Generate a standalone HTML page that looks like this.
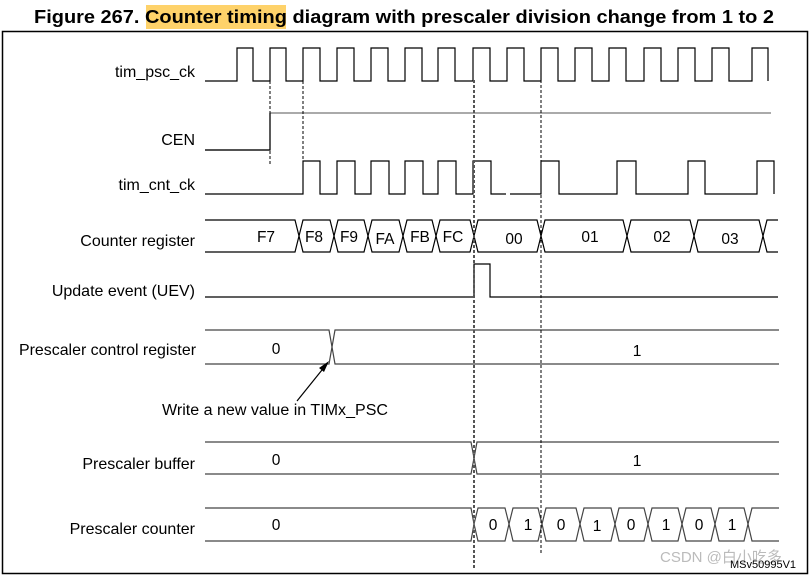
<!DOCTYPE html>
<html><head><meta charset="utf-8"><style>
html,body{margin:0;padding:0;background:#fff;}
svg{display:block;font-family:"Liberation Sans",Arial,sans-serif;}
</style></head><body>
<svg width="811" height="576" viewBox="0 0 811 576" xmlns="http://www.w3.org/2000/svg">
<rect x="146" y="5" width="140" height="24" fill="#fed26a"/>
<text x="34" y="23" font-size="18" font-weight="bold" textLength="740" lengthAdjust="spacingAndGlyphs">Figure 267. Counter timing diagram with prescaler division change from 1 to 2</text>
<rect x="2.5" y="31.5" width="805" height="542" fill="none" stroke="#000" stroke-width="1.5"/>
<g font-size="16" text-anchor="end" fill="#000">
<text x="195" y="77">tim_psc_ck</text>
<text x="195" y="145">CEN</text>
<text x="195" y="190">tim_cnt_ck</text>
<text x="195" y="246">Counter register</text>
<text x="195" y="296">Update event (UEV)</text>
<text x="196" y="355" textLength="177" lengthAdjust="spacingAndGlyphs">Prescaler control register</text>
<text x="195" y="469">Prescaler buffer</text>
<text x="195" y="534">Prescaler counter</text>
</g>
<g fill="none" stroke="#000" stroke-width="1.2">
<path d="M205 81 H237 V48 H253 V81 H270 V48 H286 V81 H303 V48 H320 V81 H337 V48 H354 V81 H371 V48 H388 V81 H405 V48 H422 V81 H438 V48 H455 V81 H473 V48 H490 V81 H507 V48 H524 V81 H541 V48 H558 V81 H575 V48 H592 V81 H609 V48 H626 V81 H644 V48 H661 V81 H678 V48 H695 V81 H712 V48 H729 V81 H752 V48 H768 V81"/>
<path d="M205 150 H270 V113 H771" stroke="#777"/>
<path d="M205 150 H270 V113"/>
<path d="M205 194 H303 V161 H320 V194 H337 V161 H355 V194 H371 V161 H389 V194 H405 V161 H423 V194 H438 V161 H456 V194 H473 V161 H491 V194 H506 M510 194 H541 V161 H559 V194 H617 V161 H636 V194 H688 V161 H705 V194 H757 V161 H774 V194"/>
<path d="M205 220 H295 L299 236 L295 252 H205"/>
<path d="M299 236 L303 220 H330 L334 236 L330 252 H303 Z"/>
<path d="M334 236 L338 220 H364 L368 236 L364 252 H338 Z"/>
<path d="M368 236 L372 220 H399 L403 236 L399 252 H372 Z"/>
<path d="M403 236 L407 220 H432 L436 236 L432 252 H407 Z"/>
<path d="M436 236 L440 220 H470 L474 236 L470 252 H440 Z"/>
<path d="M474 236 L478 220 H537 L541 236 L537 252 H478 Z"/>
<path d="M541 236 L545 220 H623 L627 236 L623 252 H545 Z"/>
<path d="M627 236 L631 220 H690 L694 236 L690 252 H631 Z"/>
<path d="M694 236 L698 220 H759 L763 236 L759 252 H698 Z"/>
<path d="M778 220 H767 L763 236 L767 252 H778"/>
<path d="M205 297 H474 V264 H490 V297 H778"/>
<path d="M205 330 H329 L332 347 L329 364 H205" stroke="#444"/>
<path d="M779 330 H335 L332 347 L335 364 H779" stroke="#444"/>
<path d="M205 442 H471 L474 458 L471 474 H205" stroke="#444"/>
<path d="M779 442 H477 L474 458 L477 474 H779" stroke="#444"/>
<path d="M205 508 H471 L474 524 L471 541 H205" stroke="#444"/>
<path d="M474 524 L478 508 H505 L509 524 L505 541 H478 Z" stroke="#444"/>
<path d="M509 524 L513 508 H538 L542 524 L538 541 H513 Z" stroke="#444"/>
<path d="M542 524 L546 508 H576 L580 524 L576 541 H546 Z" stroke="#444"/>
<path d="M580 524 L584 508 H611 L615 524 L611 541 H584 Z" stroke="#444"/>
<path d="M615 524 L619 508 H644 L648 524 L644 541 H619 Z" stroke="#444"/>
<path d="M648 524 L652 508 H678 L682 524 L678 541 H652 Z" stroke="#444"/>
<path d="M682 524 L686 508 H711 L715 524 L711 541 H686 Z" stroke="#444"/>
<path d="M715 524 L719 508 H744 L748 524 L744 541 H719 Z" stroke="#444"/>
<path d="M779 508 H752 L748 524 L752 541 H779" stroke="#444"/>
<path d="M297 401 L326 365"/>
</g>
<path d="M329 361 L319 368 L324 372 Z" fill="#000"/>
<g stroke="#000" stroke-width="1" stroke-dasharray="3,2" fill="none">
<path d="M270 81 V165"/>
<path d="M303 81 V195"/>
<path d="M474 80 V570" stroke="#555" stroke-width="2"/>
<path d="M541 80 V555"/>
</g>
<g font-size="15.5" text-anchor="middle">
<text x="266" y="242">F7</text><text x="314" y="242">F8</text><text x="349" y="242">F9</text>
<text x="385" y="244">FA</text><text x="420" y="242">FB</text><text x="453" y="242">FC</text>
<text x="514" y="244">00</text><text x="590" y="242">01</text><text x="662" y="242">02</text><text x="730" y="244">03</text>
<text x="276" y="354">0</text><text x="637" y="356">1</text>
<text x="276" y="465">0</text><text x="637" y="466">1</text>
<text x="276" y="530">0</text>
<text x="493" y="530">0</text><text x="528" y="530">1</text><text x="561" y="530">0</text><text x="597" y="531">1</text>
<text x="631" y="530">0</text><text x="666" y="530">1</text><text x="699" y="530">0</text><text x="732" y="530">1</text>
</g>
<text x="162" y="415" font-size="15.5" textLength="226" lengthAdjust="spacingAndGlyphs">Write a new value in TIMx_PSC</text>
<text x="660" y="562" font-size="15" fill="#bbb">CSDN @白小吃多</text>
<text x="730" y="568" font-size="11" fill="#000">MSv50995V1</text>
</svg>
</body></html>
